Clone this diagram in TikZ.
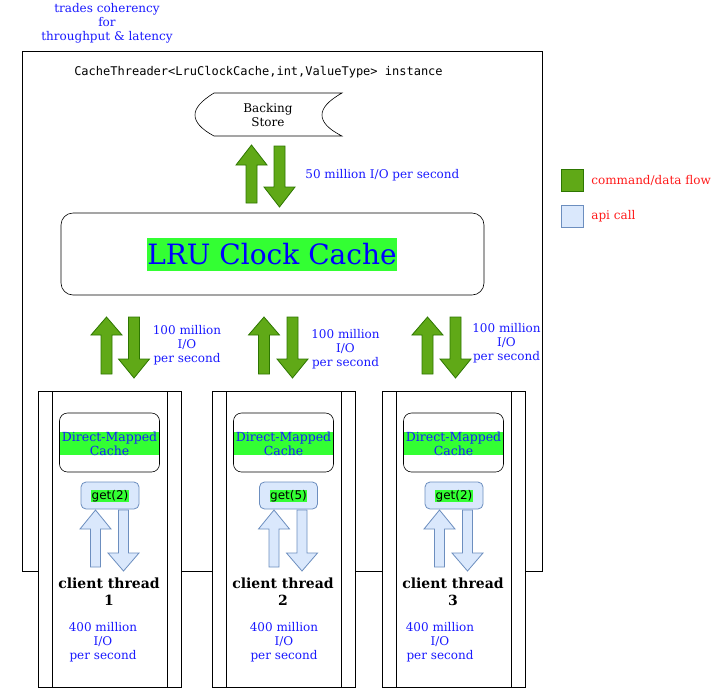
\documentclass[tikz,border=0pt]{standalone}
\usepackage{fontspec}
\setmainfont{DejaVu Serif}
\setsansfont{DejaVu Sans}
\setmonofont{DejaVu Sans Mono}
\usetikzlibrary{positioning, calc}

\definecolor{flowgreen}{HTML}{60A917}
\definecolor{flowdark}{HTML}{2D7600}
\definecolor{apiblue}{HTML}{DAE8FC}
\definecolor{apidark}{HTML}{6C8EBF}
\definecolor{hilite}{HTML}{33FF33}
\definecolor{txtblue}{HTML}{1A1AFF}
\definecolor{txtred}{HTML}{FF1A1A}

% block arrow: style, x centre, y tail, y head base, y tip, half shaft, half head
\newcommand{\blockarrow}[7]{%
  \draw[#1] ({#2-#6},#3) -- ({#2-#6},#4) -- ({#2-#7},#4) -- (#2,#5)
    -- ({#2+#7},#4) -- ({#2+#6},#4) -- ({#2+#6},#3) -- cycle;}

\tikzset{
  flow/.style={fill=flowgreen, draw=flowdark, line width=0.8pt},
  api/.style={fill=apiblue, draw=apidark, line width=0.8pt},
  note/.style={text=txtblue, align=center, font=\fontsize{12}{14}\selectfont, inner sep=0pt},
  legendtext/.style={text=txtred, anchor=west, font=\fontsize{12}{14}\selectfont, inner sep=0pt},
}

\begin{document}
\begin{tikzpicture}[x=1pt, y=-1pt, line width=0.8pt]
  \useasboundingbox (0,0) rectangle (715,689);

  % top remark and the frame
  \node[note] (remark) at (107,23) {trades coherency\\for\\throughput \& latency};
  \draw (22,51) rectangle (542,571);
  \node[font=\ttfamily\fontsize{12}{14}\selectfont, inner sep=0pt] (title) at (258.5,72)
    {CacheThreader<LruClockCache,int,ValueType> instance};

  % backing store
  \draw[fill=white, line width=0.6pt] (214,93) -- (342,93)
    .. controls (328,101) and (322,108) .. (322,115)
    .. controls (322,122) and (328,129) .. (342,136) -- (214,136)
    .. controls (201,129) and (195,122) .. (195,115)
    .. controls (195,108) and (201,101) .. (214,93) -- cycle;
  \node[align=center, font=\fontsize{12}{14}\selectfont, inner sep=0pt] (store) at (268,115) {Backing\\Store};

  \blockarrow{flow}{251.5}{203}{165}{145}{5.5}{15.5}
  \blockarrow{flow}{279.5}{146}{187}{207}{5.5}{15.5}
  \node[note, anchor=west] (rate) at (305,175) {50 million I/O per second};

  % lru clock cache
  \draw[rounded corners=12pt, line width=0.6pt] (61,213) rectangle (484,295);
  \node[fill=hilite, text=blue, inner sep=0pt, minimum height=33pt,
        font=\fontsize{28}{32}\selectfont] (lru) at (272,254.5) {LRU Clock Cache};

  % cache to threads
  \foreach \up/\down/\tx/\ty in {106.5/134/187/331, 264/292.5/345.5/335, 427.5/455.5/506.5/329} {
    \blockarrow{flow}{\up}{374}{335}{317}{5.5}{15.5}
    \blockarrow{flow}{\down}{317}{359}{378}{5.5}{15.5}
    \node[note, anchor=north] at (\tx,{\ty-6}) {100 million\\I/O\\per second};
  }

  % client threads
  \foreach \n/\xl/\g/\gx/\cx/\tx in {1/38/2/110/109/103, 2/212/5/288.5/283/284, 3/382/2/454/453/440} {
    \draw[fill=white] (\xl,391) rectangle ({\xl+143},687);
    \draw ({\xl+14},391) -- ({\xl+14},687);
    \draw ({\xl+129},391) -- ({\xl+129},687);
    \draw[rounded corners=8pt, line width=0.6pt] ({\xl+21.5},413) rectangle ({\xl+121.5},472);
    \node[fill=hilite, text=txtblue, text width=99pt, align=center, inner sep=0pt,
          font=\fontsize{12.5}{14}\selectfont] (dmc\n) at ({\xl+71.5},443.5) {Direct-Mapped\\Cache};
    \draw[api, rounded corners=5pt] ({\gx-29},482) rectangle ({\gx+29},509);
    \node[fill=hilite, inner sep=0.5pt, font=\sffamily\fontsize{12}{14}\selectfont] (get\n) at (\gx,496) {get(\g)};
    \blockarrow{api}{\gx-14.5}{567}{529}{510}{5}{15.5}
    \blockarrow{api}{\gx+13.5}{510}{553}{571}{5}{15.5}
    \node[align=center, inner sep=0pt, font=\bfseries\fontsize{14}{17}\selectfont] (thread\n) at (\cx,591.5) {client thread\\\n};
    \node[note] (load\n) at (\tx,642) {400 million\\I/O\\per second};
  }

  % legend
  \draw[flow] (561,169) rectangle (583,191);
  \node[legendtext] (legflow) at (591,180) {command/data flow};
  \draw[api] (561,205) rectangle (583,227);
  \node[legendtext] (legapi) at (591,216) {api call};
\end{tikzpicture}
\end{document}
